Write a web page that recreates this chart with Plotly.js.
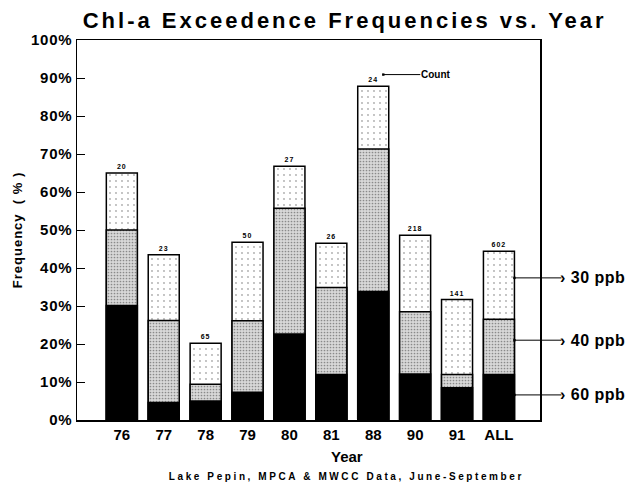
<!DOCTYPE html>
<html>
<head>
<meta charset="utf-8">
<script src="https://cdn.plot.ly/plotly-3.0.1.min.js"></script>
<style>html,body{margin:0;padding:0;background:#fff;}#chart{width:629px;height:483px;}</style>
</head>
<body>
<div id="chart"></div>
<script>
// Data
const years = ['76', '77', '78', '79', '80', '81', '88', '90', '91', 'ALL'];
const freq30 = [65, 43.5, 20.2, 46.8, 66.8, 46.5, 87.8, 48.6, 31.7, 44.4];   // % exceeding 30 ppb
const freq40 = [50, 26.2, 9.4, 26.1, 55.7, 34.9, 71.3, 28.5, 12.0, 26.5];    // % exceeding 40 ppb
const freq60 = [30.1, 4.6, 5.0, 7.3, 22.6, 12.0, 33.8, 12.1, 8.5, 12.0];     // % exceeding 60 ppb
const counts = ['20', '23', '65', '50', '27', '26', '24', '218', '141', '602'];
const ppbLabels = ['› 30 ppb', '› 40 ppb', '› 60 ppb'];
const ppbArrowY = [37.4, 21.0, 6.6];

const FONT = 'Liberation Sans, Arial, Helvetica, sans-serif';
const barW = 0.74;
const outline = {color: '#000', width: 1.5};

const traces = [
  {
    type: 'bar', x: years, y: freq30, width: barW,
    marker: {color: '#fff', line: outline,
      pattern: {shape: '.', fgcolor: '#aaa', bgcolor: '#fff', size: 6, solidity: 0.07}},
    text: counts, textposition: 'outside', cliponaxis: false,
    outsidetextfont: {family: FONT, size: 7, color: '#000', weight: 'bold'},
    textfont: {family: FONT, size: 7, color: '#000', weight: 'bold'},
    hoverinfo: 'skip'
  },
  {
    type: 'bar', x: years, y: freq40, width: barW,
    marker: {color: '#d4d4d4', line: outline,
      pattern: {shape: '.', fgcolor: '#8a8a8a', bgcolor: '#d8d8d8', size: 3, solidity: 0.25}},
    hoverinfo: 'skip'
  },
  {
    type: 'bar', x: years, y: freq60, width: barW,
    marker: {color: '#000', line: outline},
    hoverinfo: 'skip'
  }
];

const annotations = [];
ppbLabels.forEach((t, i) => {
  annotations.push({
    xref: 'x', yref: 'y', x: 9 + barW / 2, y: ppbArrowY[i],
    text: t, showarrow: true, arrowhead: 7, arrowsize: 0.6, arrowwidth: 1, arrowcolor: '#000',
    ax: 47, ay: 0, xanchor: 'left', borderpad: 0,
    font: {family: FONT, size: 16, color: '#000', weight: 'bold'}
  });
});
annotations.push({
  xref: 'x', yref: 'y', x: 6.24, y: 90.9,
  text: 'Count', showarrow: true, arrowhead: 7, arrowsize: 0.6, arrowwidth: 1, arrowcolor: '#000',
  ax: 37, ay: 0, xanchor: 'left', borderpad: 0,
  font: {family: FONT, size: 10, color: '#000', weight: 'bold'}
});
annotations.push({
  xref: 'paper', yref: 'paper', x: 0.583, y: -0.095, yanchor: 'middle',
  text: 'Year', showarrow: false,
  font: {family: FONT, size: 15, color: '#000', weight: 'bold'}
});
annotations.push({
  xref: 'paper', yref: 'paper', x: 0.583, y: -0.15, yanchor: 'middle',
  text: 'Lake Pepin, MPCA &amp; MWCC Data, June-September', showarrow: false,
  font: {family: FONT, size: 10, color: '#000', weight: 'bold'}
});

const layout = {
  width: 629, height: 483,
  margin: {l: 77, r: 89, t: 40, b: 63},
  paper_bgcolor: '#fff', plot_bgcolor: '#fff',
  barmode: 'overlay',
  showlegend: false,
  title: {text: 'Chl-a Exceedence Frequencies vs. Year', x: 0.548, xanchor: 'center', y: 0.958, yanchor: 'middle',
    font: {family: FONT, size: 22, color: '#000', weight: 'bold'}},
  xaxis: {
    type: 'category', range: [-1.07, 9.98],
    showline: true, linecolor: '#000', linewidth: 1.5, mirror: true,
    ticks: '', showgrid: false, zeroline: false,
    tickfont: {family: FONT, size: 15, color: '#000', weight: 'bold'}
  },
  yaxis: {
    range: [0, 100], dtick: 10, ticksuffix: '%',
    showline: true, linecolor: '#000', linewidth: 1.5, mirror: true,
    ticks: 'inside', ticklen: 8, tickwidth: 1, tickcolor: '#000',
    showgrid: false, zeroline: false,
    tickfont: {family: FONT, size: 15, color: '#000', weight: 'bold'},
    title: {text: 'Frequency  ( % )', standoff: 8,
      font: {family: FONT, size: 13, color: '#000', weight: 'bold'}}
  },
  annotations: annotations
};

Plotly.newPlot('chart', traces, layout, {displayModeBar: false, staticPlot: true}).then(gd => {
  const sp = (sel, v) => gd.querySelectorAll(sel).forEach(el => { el.style.letterSpacing = v; });
  sp('.gtitle', '3px');
  sp('.ytick text', '0.8px');
  sp('.g-ytitle text', '1px');
  sp('.bartext', '1px');
  const ann = gd.querySelectorAll('.annotation-text');
  ann.forEach(el => {
    if (el.textContent.indexOf('Lake Pepin') === 0) el.style.letterSpacing = '2.6px';
    if (el.textContent.indexOf('ppb') >= 0) el.style.letterSpacing = '0.5px';
  });
});
</script>
</body>
</html>
